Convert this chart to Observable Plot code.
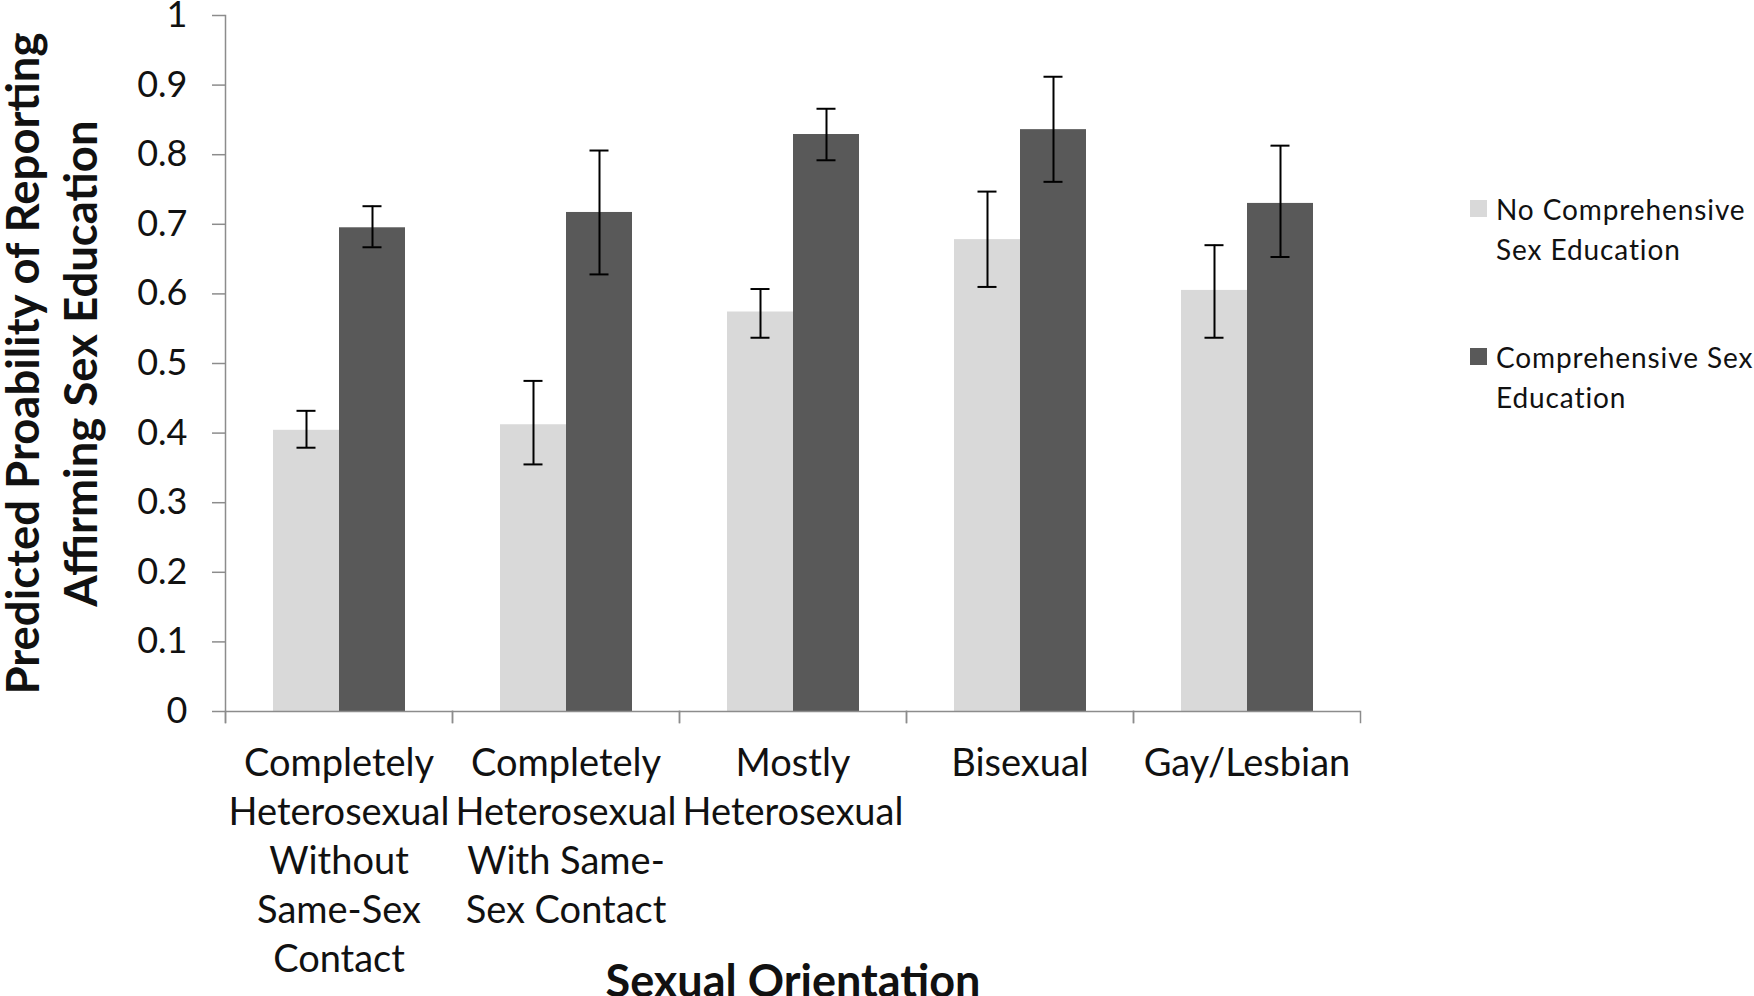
<!DOCTYPE html>
<html>
<head>
<meta charset="utf-8">
<script src="https://cdn.jsdelivr.net/npm/d3@7"></script>
<script src="https://cdn.jsdelivr.net/npm/@observablehq/plot@0.6"></script>
<style>
  html, body { margin: 0; padding: 0; background: #fff; }
  #wrap { position: relative; width: 1754px; height: 996px; overflow: hidden; font-family: Lato, sans-serif; }
  #legend { position: absolute; left: 1470px; top: 189px; }
  .item { display: flex; align-items: flex-start; margin-bottom: 68px; }
  .sw { width: 17px; height: 17px; margin-top: 11px; margin-right: 9px; flex: none; }
  .lbl { font-size: 28px; letter-spacing: 0.9px; line-height: 40px; color: #111; white-space: pre-line; }
</style>
</head>
<body>
<div id="wrap"><div id="legend"></div></div>
<script>
// ---- data ----
const categories = [
  "Completely Heterosexual Without Same-Sex Contact",
  "Completely Heterosexual With Same-Sex Contact",
  "Mostly Heterosexual",
  "Bisexual",
  "Gay/Lesbian"
];
const categoryLabels = [
  "Completely\nHeterosexual\nWithout\nSame-Sex\nContact",
  "Completely\nHeterosexual\nWith Same-\nSex Contact",
  "Mostly\nHeterosexual",
  "Bisexual",
  "Gay/Lesbian"
];
const seriesNames = ["No Comprehensive Sex Education", "Comprehensive Sex Education"];
const legendLabels = ["No Comprehensive\nSex Education", "Comprehensive Sex\nEducation"];
const seriesColors = ["#d9d9d9", "#595959"];

const noCompValues = [0.404, 0.412, 0.574, 0.678, 0.605];
const noCompLower  = [0.379, 0.355, 0.537, 0.610, 0.537];
const noCompUpper  = [0.432, 0.475, 0.607, 0.747, 0.670];
const compValues   = [0.695, 0.717, 0.829, 0.836, 0.730];
const compLower    = [0.667, 0.628, 0.792, 0.761, 0.653];
const compUpper    = [0.726, 0.806, 0.866, 0.912, 0.813];

const yTicks = [0, 0.1, 0.2, 0.3, 0.4, 0.5, 0.6, 0.7, 0.8, 0.9, 1];
const yTickLabels = ["0", "0.1", "0.2", "0.3", "0.4", "0.5", "0.6", "0.7", "0.8", "0.9", "1"];
const xTitle = "Sexual Orientation";
const yTitle = "Predicted Proability of Reporting\nAffirming Sex Education";

// ---- table ----
const rows = [];
categories.forEach((c, i) => {
  rows.push({category: c, series: seriesNames[0], value: noCompValues[i], lo: noCompLower[i], hi: noCompUpper[i]});
  rows.push({category: c, series: seriesNames[1], value: compValues[i], lo: compLower[i], hi: compUpper[i]});
});

const axisGray = "#8c8c8c";

const chart = Plot.plot({
  width: 1754,
  height: 996,
  marginLeft: 224,
  marginRight: 393,
  marginTop: 15,
  marginBottom: 285,
  style: {fontFamily: "Lato, sans-serif", background: "white", color: "#111", overflow: "visible"},
  fx: {domain: categories, padding: 0, label: null},
  x: {domain: seriesNames, paddingInner: 0, paddingOuter: 0.697, axis: null},
  y: {domain: [0, 1], label: null},
  color: {domain: seriesNames, range: seriesColors},
  marks: [
    Plot.barY(rows, {fx: "category", x: "series", y: "value", fill: "series"}),
    Plot.ruleX(rows, {fx: "category", x: "series", y1: "lo", y2: "hi", stroke: "#000", strokeWidth: 2}),
    Plot.tickY(rows, {fx: "category", x: "series", y: "lo", stroke: "#000", strokeWidth: 2, insetLeft: 23.5, insetRight: 23.5}),
    Plot.tickY(rows, {fx: "category", x: "series", y: "hi", stroke: "#000", strokeWidth: 2, insetLeft: 23.5, insetRight: 23.5}),
    Plot.ruleY([0], {stroke: axisGray, strokeWidth: 1.5}),
    Plot.frame({anchor: "left", stroke: axisGray, strokeWidth: 1.5, insetTop: 696, insetBottom: -11}),
    Plot.frame({anchor: "right", stroke: axisGray, strokeWidth: 1.5, insetTop: 696, insetBottom: -11}),
    Plot.frame({facet: "super", anchor: "left", stroke: axisGray, strokeWidth: 1.5, insetBottom: -11}),
    Plot.axisY({ticks: yTicks, tickFormat: (d) => yTickLabels[yTicks.indexOf(d)], tickSize: 13, tickPadding: 25,
                fontSize: 36, stroke: axisGray, strokeWidth: 1.5, label: null}),
    Plot.axisFx({anchor: "bottom", tickSize: 0, tickPadding: 30, fontSize: 38, lineHeight: 1.29, label: null,
                 tickFormat: (c) => categoryLabels[categories.indexOf(c)]}),
    Plot.text([xTitle], {facet: "super", frameAnchor: "bottom", dy: 285, lineAnchor: "bottom",
                         fontSize: 45, fontWeight: "bold", fill: "#111"}),
    Plot.text([yTitle], {facet: "super", frameAnchor: "left", rotate: -90, dx: -176, lineAnchor: "middle",
                         textAnchor: "middle", fontSize: 45.5, fontWeight: "bold", lineHeight: 1.28, fill: "#111"})
  ]
});
document.getElementById("wrap").prepend(chart);

// ---- legend ----
const legend = document.getElementById("legend");
seriesNames.forEach((s, i) => {
  const item = document.createElement("div");
  item.className = "item";
  const sw = document.createElement("span");
  sw.className = "sw";
  sw.style.background = seriesColors[i];
  const lbl = document.createElement("div");
  lbl.className = "lbl";
  lbl.textContent = legendLabels[i];
  item.appendChild(sw);
  item.appendChild(lbl);
  legend.appendChild(item);
});
</script>
</body>
</html>
